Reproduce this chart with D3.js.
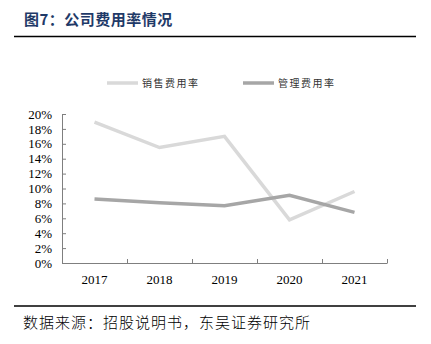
<!DOCTYPE html>
<html><head><meta charset="utf-8">
<script src="https://cdn.jsdelivr.net/npm/d3@7"></script>
<style>body{margin:0;background:#fff;}</style>
</head><body>
<script>
const years = ["2017","2018","2019","2020","2021"];
const salesRate = [18.9, 15.5, 17.0, 5.8, 9.6];
const adminRate = [8.6, 8.1, 7.7, 9.1, 6.8];
const yTicks = [0,2,4,6,8,10,12,14,16,18,20];
const seriesNames = ["销售费用率","管理费用率"];
const seriesColors = ["#d9d9d9","#a6a6a6"];

const W=431,H=344;
const svg=d3.select("body").append("svg").attr("width",W).attr("height",H);
svg.append("rect").attr("width",W).attr("height",H).attr("fill","#fff");

svg.append("text").attr("x",24).attr("y",25).text("图7：公司费用率情况")
  .style("font-family","'Noto Sans CJK SC'").attr("font-weight","bold").attr("font-size",15).attr("letter-spacing",0.5).attr("fill","#1f3a68");
svg.append("line").attr("x1",14).attr("x2",416).attr("y1",36.5).attr("y2",36.5).attr("stroke","#000").attr("stroke-width",1.5);
svg.append("line").attr("x1",14).attr("x2",416).attr("y1",306).attr("y2",306).attr("stroke","#000").attr("stroke-width",1.5);
svg.append("text").attr("x",23).attr("y",328).text("数据来源：招股说明书，东吴证券研究所")
  .style("font-family","'Noto Sans CJK SC'").attr("font-size",15).attr("letter-spacing",1).attr("font-weight",300).attr("fill","#000");

const x=d3.scaleBand().domain(years).range([62,387]);
const y=d3.scaleLinear().domain([0,20]).range([263,114]);

const axisColor="#7f7f7f";
const gx=svg.append("g").attr("transform","translate(0,263)")
  .call(d3.axisBottom(x).tickSize(0).tickPadding(12));
gx.select(".domain").attr("stroke",axisColor);
gx.selectAll("text").style("font-family","'Liberation Serif',serif").style("font-size","13px").attr("fill","#000");
const bounds = years.map(d=>x(d)).concat([x.range()[1]]);
svg.append("g").selectAll("line").data(bounds.slice(1)).join("line")
  .attr("x1",d=>d+0.5).attr("x2",d=>d+0.5).attr("y1",263).attr("y2",259).attr("stroke",axisColor);

const gy=svg.append("g").attr("transform","translate(62,0)")
  .call(d3.axisLeft(y).tickValues(yTicks).tickFormat(d=>d+"%").tickSizeInner(-4).tickSizeOuter(0).tickPadding(10));
gy.select(".domain").attr("stroke",axisColor);
gy.selectAll(".tick line").attr("stroke",axisColor);
gy.selectAll("text").style("font-family","'Liberation Serif',serif").style("font-size","13px").attr("fill","#000");

const line=d3.line().x((d,i)=>x(years[i])+x.bandwidth()/2).y(d=>y(d));
[salesRate,adminRate].forEach((s,k)=>{
  svg.append("path").datum(s).attr("d",line).attr("fill","none")
    .attr("stroke",seriesColors[k]).attr("stroke-width",3.5);
});

const legendX=[107,243];
seriesNames.forEach((n,k)=>{
  svg.append("line").attr("x1",legendX[k]).attr("x2",legendX[k]+31).attr("y1",83).attr("y2",83)
    .attr("stroke",seriesColors[k]).attr("stroke-width",3.5);
  svg.append("text").attr("x",legendX[k]+35).attr("y",87).text(n)
    .style("font-family","'Noto Sans CJK SC'").attr("font-size",10).attr("letter-spacing",1.5).attr("fill","#333");
});
</script>
</body></html>
